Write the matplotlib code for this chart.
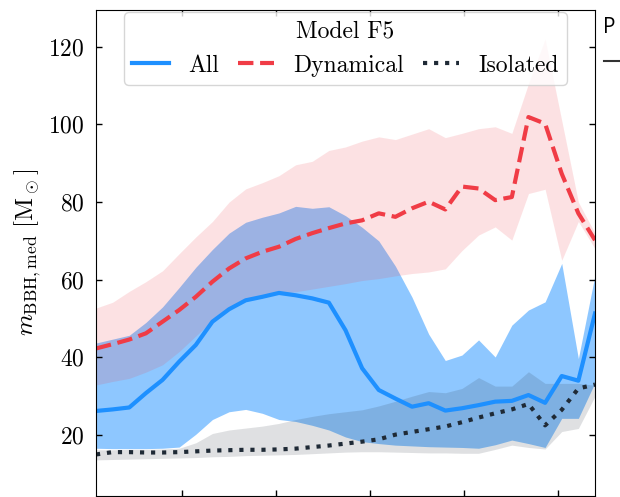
import numpy as np
import matplotlib as mpl
import matplotlib.pyplot as plt
from matplotlib.lines import Line2D

mpl.rcParams["font.family"] = "serif"
mpl.rcParams["font.serif"] = ["cmr10"]
mpl.rcParams["mathtext.fontset"] = "cm"
mpl.rcParams["axes.unicode_minus"] = False
mpl.rcParams["axes.formatter.use_mathtext"] = True

# sample positions (x tick labels are cut off in the source)
x = [0.085, 0.262, 0.439, 0.616, 0.793, 0.970, 1.147, 1.324, 1.501, 1.678,
     1.855, 2.032, 2.209, 2.386, 2.563, 2.740, 2.917, 3.094, 3.271, 3.448,
     3.625, 3.802, 3.979, 4.156, 4.333, 4.510, 4.687, 4.864, 5.041, 5.218, 5.395]

# All
all_med = [26.2, 26.6, 27.1, 30.8, 34.2, 38.9, 43.2, 49.2, 52.4, 54.7, 55.6,
           56.6, 56.0, 55.2, 54.1, 47.0, 37.2, 31.6, 29.4, 27.3, 28.2, 26.3,
           26.9, 27.7, 28.6, 28.8, 30.3, 28.3, 35.2, 34.0, 51.3]
all_lo = [16.6, 16.5, 16.5, 16.5, 16.6, 16.9, 20.2, 24.0, 26.0, 26.6, 25.6,
          24.0, 23.5, 22.5, 21.3, 19.5, 18.3, 17.8, 17.4, 17.2, 17.0, 16.9,
          16.8, 16.6, 17.5, 18.7, 17.8, 16.8, 24.3, 24.3, 33.5]
all_hi = [43.7, 44.7, 45.7, 49.0, 53.0, 58.0, 63.2, 67.8, 72.0, 74.8, 76.1,
          77.2, 78.9, 78.4, 78.8, 76.5, 73.5, 70.0, 63.5, 55.5, 46.0, 39.2,
          40.6, 44.5, 40.1, 48.3, 52.2, 54.3, 64.2, 39.7, 61.2]

# Dynamical
dyn_med = [42.3, 43.4, 44.6, 46.2, 49.2, 52.2, 55.6, 59.5, 62.9, 65.5, 67.2,
           68.5, 70.5, 72.0, 73.3, 74.5, 75.3, 77.1, 76.2, 78.4, 80.1, 78.1,
           84.0, 83.5, 80.5, 81.3, 101.9, 100.2, 87.3, 77.1, 70.2]
dyn_lo = [32.9, 33.8, 34.6, 36.2, 38.1, 41.5, 45.5, 49.5, 52.5, 54.6, 55.6,
          56.5, 56.9, 57.6, 58.3, 59.0, 59.8, 60.3, 61.0, 61.6, 62.0, 62.8,
          67.5, 71.5, 73.6, 70.2, 82.2, 83.3, 65.0, 75.0, 68.0]
dyn_hi = [52.7, 54.2, 57.0, 59.5, 62.3, 66.7, 71.0, 75.0, 80.0, 83.4, 85.0,
          86.8, 89.6, 90.5, 93.3, 94.2, 95.7, 96.8, 96.1, 97.5, 98.9, 96.6,
          97.7, 98.9, 99.4, 97.7, 110.5, 122.0, 101.0, 80.0, 72.0]

# Isolated
iso_med = [15.0, 15.6, 15.6, 15.5, 15.5, 15.6, 15.8, 16.0, 16.1, 16.2, 16.2,
           16.3, 16.5, 16.9, 17.3, 17.8, 18.3, 18.9, 20.1, 20.8, 21.5, 22.2,
           23.3, 24.5, 25.6, 26.6, 28.0, 22.5, 26.5, 32.0, 33.0]
iso_lo = [13.6, 13.7, 13.8, 13.9, 14.0, 14.1, 14.2, 14.4, 14.5, 14.7, 14.8,
          14.9, 15.0, 15.2, 15.4, 15.6, 15.7, 15.7, 15.6, 15.5, 15.4, 15.4,
          15.3, 15.3, 16.3, 17.4, 16.8, 16.4, 20.9, 21.7, 30.0]
iso_hi = [16.2, 16.2, 16.3, 16.3, 16.4, 16.6, 18.0, 20.4, 21.3, 21.8, 22.3,
          23.0, 24.0, 24.8, 25.5, 26.0, 26.5, 27.5, 28.7, 30.0, 31.2, 30.9,
          32.0, 34.8, 32.6, 32.6, 36.3, 33.3, 33.3, 33.3, 32.8]

c_all = "dodgerblue"
c_dyn = "#f03c46"
c_iso = "#1f2a36"

fig = plt.figure(figsize=(6.2, 4.97), dpi=100)
ax = fig.add_axes([96 / 620, 1 / 497, 499 / 620, 486.5 / 497])

ax.fill_between(x, all_lo, all_hi, color=c_all, alpha=0.5, lw=0)
ax.fill_between(x, dyn_lo, dyn_hi, color=c_dyn, alpha=0.15, lw=0)
ax.fill_between(x, iso_lo, iso_hi, color=c_iso, alpha=0.14, lw=0)

ax.plot(x, all_med, color=c_all, lw=3, label="All")
ax.plot(x, dyn_med, color=c_dyn, lw=3, ls="--", label="Dynamical")
ax.plot(x, iso_med, color=c_iso, lw=3, ls=":", label="Isolated")

ax.set_xlim(0.085, 5.395)
ax.set_ylim(4.3, 129.6)
ax.set_xticks([1, 2, 3, 4, 5])
ax.set_yticks([20, 40, 60, 80, 100, 120])
ax.tick_params(direction="in", top=True, right=True, length=4, width=1,
               labelbottom=False, labelsize=17, pad=8)
ax.set_ylabel(r"$m_{\rm BBH,med}\ [{\rm M}_\odot]$", fontsize=18, labelpad=4)

leg = ax.legend(loc="upper center", ncol=3, title="Model F5", fontsize=17,
                title_fontsize=17, handlelength=1.55, handletextpad=0.8,
                columnspacing=0.8, borderaxespad=0.12, borderpad=0.35)

# pieces of the neighbouring panel that show at the right edge
fig.text(603 / 620, 1 - 33 / 497, "P", fontsize=15, family="Open Sans")
fig.add_artist(Line2D([604 / 620, 1.0], [1 - 61 / 497, 1 - 61 / 497],
                      color="#333333", lw=1.5))

fig.savefig("out.png", dpi=100)
